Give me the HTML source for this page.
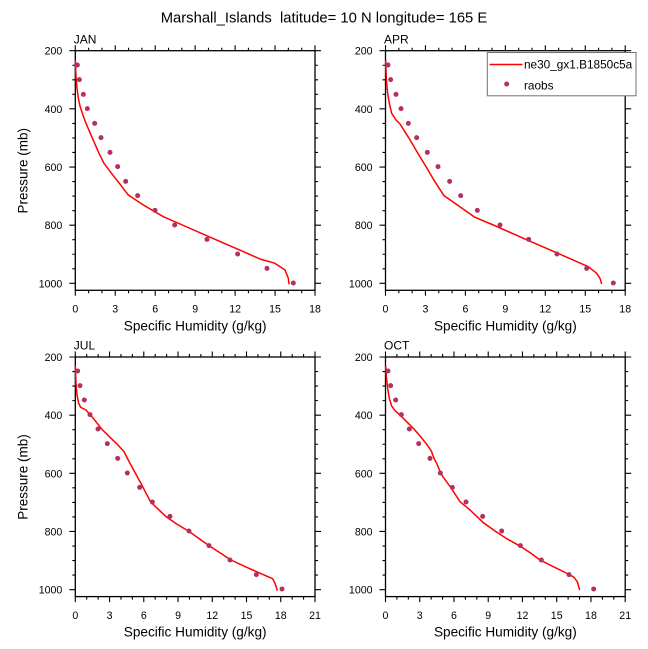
<!DOCTYPE html>
<html>
<head>
<meta charset="utf-8">
<style>
html,body{margin:0;padding:0;background:#fff;}
svg{display:block;}
text{font-family:"Liberation Sans",Arial,sans-serif;fill:#000;}
.pre{white-space:pre;}
</style>
</head>
<body>
<svg width="648" height="649" viewBox="0 0 648 649" xmlns="http://www.w3.org/2000/svg">
<rect width="648" height="649" fill="#fff"/>

<!-- Title -->
<text class="pre" xml:space="preserve" x="324" y="22.3" font-size="14.8" text-anchor="middle">Marshall_Islands  latitude= 10 N longitude= 165 E</text>

<!-- ========== PANEL 1 (JAN) ========== -->
<g transform="translate(75.3,50.7)">
  <rect x="0" y="0" width="239.7" height="239.6" fill="none" stroke="#000" stroke-width="1.3"/>
  <path fill="none" stroke="#000" stroke-width="1.1" d="M0 0h-6M0 58.16h-6M0 116.32h-6M0 174.48h-6M0 232.64h-6M0 14.54h-3M0 29.08h-3M0 43.62h-3M0 72.7h-3M0 87.24h-3M0 101.78h-3M0 130.86h-3M0 145.4h-3M0 159.94h-3M0 189.02h-3M0 203.56h-3M0 218.1h-3
  M239.7 0h6M239.7 58.16h6M239.7 116.32h6M239.7 174.48h6M239.7 232.64h6M239.7 14.54h3M239.7 29.08h3M239.7 43.62h3M239.7 72.7h3M239.7 87.24h3M239.7 101.78h3M239.7 130.86h3M239.7 145.4h3M239.7 159.94h3M239.7 189.02h3M239.7 203.56h3M239.7 218.1h3
  M0 239.6v5.5M39.95 239.6v5.5M79.9 239.6v5.5M119.85 239.6v5.5M159.8 239.6v5.5M199.76 239.6v5.5M239.7 239.6v5.5M13.32 239.6v3M26.63 239.6v3M53.27 239.6v3M66.59 239.6v3M93.22 239.6v3M106.54 239.6v3M133.17 239.6v3M146.49 239.6v3M173.12 239.6v3M186.44 239.6v3M213.07 239.6v3M226.39 239.6v3
  M0 0v-5.5M39.95 0v-5.5M79.9 0v-5.5M119.85 0v-5.5M159.8 0v-5.5M199.76 0v-5.5M239.7 0v-5.5M13.32 0v-3M26.63 0v-3M53.27 0v-3M66.59 0v-3M93.22 0v-3M106.54 0v-3M133.17 0v-3M146.49 0v-3M173.12 0v-3M186.44 0v-3M213.07 0v-3M226.39 0v-3"/>
  <g font-size="10.6" text-anchor="end">
    <text x="-13" y="4">200</text><text x="-13" y="62.2">400</text><text x="-13" y="120.3">600</text><text x="-13" y="178.5">800</text><text x="-13" y="236.6">1000</text>
  </g>
  <g font-size="10.6" text-anchor="middle">
    <text x="0" y="262">0</text><text x="39.95" y="262">3</text><text x="79.9" y="262">6</text><text x="119.85" y="262">9</text><text x="159.8" y="262">12</text><text x="199.76" y="262">15</text><text x="239.7" y="262">18</text>
  </g>
  <text x="-1.5" y="-7.3" font-size="12">JAN</text>
  <text x="119.85" y="279.8" font-size="13.6" text-anchor="middle">Specific Humidity (g/kg)</text>
</g>
<text transform="translate(27.6,170.8) rotate(-90)" font-size="13.5" text-anchor="middle">Pressure (mb)</text>

<g transform="scale(0.333333)">
  <polyline fill="none" stroke="#ff0000" stroke-width="4.5" stroke-linejoin="round" points="226,180 228,230 231,265 235,295 240,318 248,343 258,370 270,398 283,428 297,460 312,490 333,518 358,550 385,585 430,615 490,650 547,675 645,718 746,762 780,777 825,790 855,810 865,835 867,853"/>
  <g fill="#b3305f">
    <circle cx="232" cy="195" r="7.5"/><circle cx="238" cy="239" r="7.5"/><circle cx="250" cy="283" r="7.5"/><circle cx="262" cy="326" r="7.5"/><circle cx="284" cy="370" r="7.5"/><circle cx="303" cy="413" r="7.5"/><circle cx="330" cy="457" r="7.5"/><circle cx="353" cy="500" r="7.5"/><circle cx="377" cy="544" r="7.5"/><circle cx="413" cy="587" r="7.5"/><circle cx="465" cy="631" r="7.5"/><circle cx="524" cy="675" r="7.5"/><circle cx="621" cy="718" r="7.5"/><circle cx="713" cy="762" r="7.5"/><circle cx="801" cy="805" r="7.5"/><circle cx="880" cy="849" r="7.5"/>
  </g>
</g>

<!-- ========== PANEL 2 (APR) ========== -->
<g transform="translate(385.5,50.7)">
  <rect x="0" y="0" width="239.7" height="239.6" fill="none" stroke="#000" stroke-width="1.3"/>
  <path fill="none" stroke="#000" stroke-width="1.1" d="M0 0h-6M0 58.16h-6M0 116.32h-6M0 174.48h-6M0 232.64h-6M0 14.54h-3M0 29.08h-3M0 43.62h-3M0 72.7h-3M0 87.24h-3M0 101.78h-3M0 130.86h-3M0 145.4h-3M0 159.94h-3M0 189.02h-3M0 203.56h-3M0 218.1h-3
  M239.7 0h6M239.7 58.16h6M239.7 116.32h6M239.7 174.48h6M239.7 232.64h6M239.7 14.54h3M239.7 29.08h3M239.7 43.62h3M239.7 72.7h3M239.7 87.24h3M239.7 101.78h3M239.7 130.86h3M239.7 145.4h3M239.7 159.94h3M239.7 189.02h3M239.7 203.56h3M239.7 218.1h3
  M0 239.6v5.5M39.95 239.6v5.5M79.9 239.6v5.5M119.85 239.6v5.5M159.8 239.6v5.5M199.76 239.6v5.5M239.7 239.6v5.5M13.32 239.6v3M26.63 239.6v3M53.27 239.6v3M66.59 239.6v3M93.22 239.6v3M106.54 239.6v3M133.17 239.6v3M146.49 239.6v3M173.12 239.6v3M186.44 239.6v3M213.07 239.6v3M226.39 239.6v3
  M0 0v-5.5M39.95 0v-5.5M79.9 0v-5.5M119.85 0v-5.5M159.8 0v-5.5M199.76 0v-5.5M239.7 0v-5.5M13.32 0v-3M26.63 0v-3M53.27 0v-3M66.59 0v-3M93.22 0v-3M106.54 0v-3M133.17 0v-3M146.49 0v-3M173.12 0v-3M186.44 0v-3M213.07 0v-3M226.39 0v-3"/>
  <g font-size="10.6" text-anchor="end">
    <text x="-13" y="4">200</text><text x="-13" y="62.2">400</text><text x="-13" y="120.3">600</text><text x="-13" y="178.5">800</text><text x="-13" y="236.6">1000</text>
  </g>
  <g font-size="10.6" text-anchor="middle">
    <text x="0" y="262">0</text><text x="39.95" y="262">3</text><text x="79.9" y="262">6</text><text x="119.85" y="262">9</text><text x="159.8" y="262">12</text><text x="199.76" y="262">15</text><text x="239.7" y="262">18</text>
  </g>
  <text x="-1.5" y="-7.3" font-size="12">APR</text>
  <text x="119.85" y="279.8" font-size="13.6" text-anchor="middle">Specific Humidity (g/kg)</text>
</g>

<g transform="translate(320,0) scale(0.333333)">
  <polyline fill="none" stroke="#ff0000" stroke-width="4.5" stroke-linejoin="round" points="197,180 199,240 203,280 208,310 215,340 228,360 240,372 266,413 292,457 318,500 344,544 372,587 465,652 520,675 617,718 718,762 805,800 830,820 840,835 845,852"/>
  <g fill="#b3305f">
    <circle cx="204" cy="195" r="7.5"/><circle cx="212" cy="239" r="7.5"/><circle cx="228" cy="283" r="7.5"/><circle cx="243" cy="326" r="7.5"/><circle cx="265" cy="370" r="7.5"/><circle cx="290" cy="413" r="7.5"/><circle cx="322" cy="457" r="7.5"/><circle cx="354" cy="500" r="7.5"/><circle cx="389" cy="544" r="7.5"/><circle cx="422" cy="587" r="7.5"/><circle cx="472" cy="631" r="7.5"/><circle cx="540" cy="675" r="7.5"/><circle cx="626" cy="718" r="7.5"/><circle cx="711" cy="762" r="7.5"/><circle cx="800" cy="805" r="7.5"/><circle cx="880" cy="849" r="7.5"/>
  </g>
</g>

<!-- Legend -->
<rect x="487.3" y="52.5" width="148.7" height="43.3" fill="#fff" stroke="#707070" stroke-width="1"/>
<line x1="489.5" y1="64.5" x2="522.5" y2="64.5" stroke="#ff0000" stroke-width="1.5"/>
<text x="524" y="68.5" font-size="11.8">ne30_gx1.B1850c5a</text>
<circle cx="506.7" cy="84" r="2.5" fill="#b3305f"/>
<text x="524" y="89.3" font-size="11.8">raobs</text>

<!-- ========== PANEL 3 (JUL) ========== -->
<g transform="translate(75.3,357)">
  <rect x="0" y="0" width="239.7" height="239.6" fill="none" stroke="#000" stroke-width="1.3"/>
  <path fill="none" stroke="#000" stroke-width="1.1" d="M0 0h-6M0 58.16h-6M0 116.32h-6M0 174.48h-6M0 232.64h-6M0 14.54h-3M0 29.08h-3M0 43.62h-3M0 72.7h-3M0 87.24h-3M0 101.78h-3M0 130.86h-3M0 145.4h-3M0 159.94h-3M0 189.02h-3M0 203.56h-3M0 218.1h-3
  M239.7 0h6M239.7 58.16h6M239.7 116.32h6M239.7 174.48h6M239.7 232.64h6M239.7 14.54h3M239.7 29.08h3M239.7 43.62h3M239.7 72.7h3M239.7 87.24h3M239.7 101.78h3M239.7 130.86h3M239.7 145.4h3M239.7 159.94h3M239.7 189.02h3M239.7 203.56h3M239.7 218.1h3
  M0 239.6v5.5M34.24 239.6v5.5M68.48 239.6v5.5M102.73 239.6v5.5M136.97 239.6v5.5M171.21 239.6v5.5M205.45 239.6v5.5M239.7 239.6v5.5M11.41 239.6v3M22.83 239.6v3M45.66 239.6v3M57.07 239.6v3M79.9 239.6v3M91.31 239.6v3M114.14 239.6v3M125.55 239.6v3M148.38 239.6v3M159.8 239.6v3M182.62 239.6v3M194.04 239.6v3M216.87 239.6v3M228.28 239.6v3
  M0 0v-5.5M34.24 0v-5.5M68.48 0v-5.5M102.73 0v-5.5M136.97 0v-5.5M171.21 0v-5.5M205.45 0v-5.5M239.7 0v-5.5M11.41 0v-3M22.83 0v-3M45.66 0v-3M57.07 0v-3M79.9 0v-3M91.31 0v-3M114.14 0v-3M125.55 0v-3M148.38 0v-3M159.8 0v-3M182.62 0v-3M194.04 0v-3M216.87 0v-3M228.28 0v-3"/>
  <g font-size="10.6" text-anchor="end">
    <text x="-13" y="4">200</text><text x="-13" y="62.2">400</text><text x="-13" y="120.3">600</text><text x="-13" y="178.5">800</text><text x="-13" y="236.6">1000</text>
  </g>
  <g font-size="10.6" text-anchor="middle">
    <text x="0" y="262">0</text><text x="34.24" y="262">3</text><text x="68.48" y="262">6</text><text x="102.73" y="262">9</text><text x="136.97" y="262">12</text><text x="171.21" y="262">15</text><text x="205.45" y="262">18</text><text x="239.7" y="262">21</text>
  </g>
  <text x="-1.5" y="-7.5" font-size="12">JUL</text>
  <text x="119.85" y="279.5" font-size="13.6" text-anchor="middle">Specific Humidity (g/kg)</text>
</g>
<text transform="translate(27.6,477) rotate(-90)" font-size="13.5" text-anchor="middle">Pressure (mb)</text>

<g transform="translate(0,320) scale(0.333333)">
  <polyline fill="none" stroke="#ff0000" stroke-width="4.5" stroke-linejoin="round" points="226,138 228,190 231,225 236,250 242,262 258,270 280,295 305,327 330,352 350,371 372,395 390,430 406,459 429,502 452,546 475,568 497,589 530,612 565,633 627,677 693,720 740,742 790,764 818,776 826,792 832,812"/>
  <g fill="#b3305f">
    <circle cx="233" cy="153" r="7.5"/><circle cx="240" cy="197" r="7.5"/><circle cx="253" cy="240" r="7.5"/><circle cx="270" cy="284" r="7.5"/><circle cx="294" cy="327" r="7.5"/><circle cx="322" cy="371" r="7.5"/><circle cx="353" cy="415" r="7.5"/><circle cx="382" cy="459" r="7.5"/><circle cx="419" cy="502" r="7.5"/><circle cx="457" cy="546" r="7.5"/><circle cx="510" cy="589" r="7.5"/><circle cx="567" cy="633" r="7.5"/><circle cx="627" cy="677" r="7.5"/><circle cx="690" cy="720" r="7.5"/><circle cx="769" cy="764" r="7.5"/><circle cx="846" cy="807" r="7.5"/>
  </g>
</g>

<!-- ========== PANEL 4 (OCT) ========== -->
<g transform="translate(385.5,357)">
  <rect x="0" y="0" width="239.7" height="239.6" fill="none" stroke="#000" stroke-width="1.3"/>
  <path fill="none" stroke="#000" stroke-width="1.1" d="M0 0h-6M0 58.16h-6M0 116.32h-6M0 174.48h-6M0 232.64h-6M0 14.54h-3M0 29.08h-3M0 43.62h-3M0 72.7h-3M0 87.24h-3M0 101.78h-3M0 130.86h-3M0 145.4h-3M0 159.94h-3M0 189.02h-3M0 203.56h-3M0 218.1h-3
  M239.7 0h6M239.7 58.16h6M239.7 116.32h6M239.7 174.48h6M239.7 232.64h6M239.7 14.54h3M239.7 29.08h3M239.7 43.62h3M239.7 72.7h3M239.7 87.24h3M239.7 101.78h3M239.7 130.86h3M239.7 145.4h3M239.7 159.94h3M239.7 189.02h3M239.7 203.56h3M239.7 218.1h3
  M0 239.6v5.5M34.24 239.6v5.5M68.48 239.6v5.5M102.73 239.6v5.5M136.97 239.6v5.5M171.21 239.6v5.5M205.45 239.6v5.5M239.7 239.6v5.5M11.41 239.6v3M22.83 239.6v3M45.66 239.6v3M57.07 239.6v3M79.9 239.6v3M91.31 239.6v3M114.14 239.6v3M125.55 239.6v3M148.38 239.6v3M159.8 239.6v3M182.62 239.6v3M194.04 239.6v3M216.87 239.6v3M228.28 239.6v3
  M0 0v-5.5M34.24 0v-5.5M68.48 0v-5.5M102.73 0v-5.5M136.97 0v-5.5M171.21 0v-5.5M205.45 0v-5.5M239.7 0v-5.5M11.41 0v-3M22.83 0v-3M45.66 0v-3M57.07 0v-3M79.9 0v-3M91.31 0v-3M114.14 0v-3M125.55 0v-3M148.38 0v-3M159.8 0v-3M182.62 0v-3M194.04 0v-3M216.87 0v-3M228.28 0v-3"/>
  <g font-size="10.6" text-anchor="end">
    <text x="-13" y="4">200</text><text x="-13" y="62.2">400</text><text x="-13" y="120.3">600</text><text x="-13" y="178.5">800</text><text x="-13" y="236.6">1000</text>
  </g>
  <g font-size="10.6" text-anchor="middle">
    <text x="0" y="262">0</text><text x="34.24" y="262">3</text><text x="68.48" y="262">6</text><text x="102.73" y="262">9</text><text x="136.97" y="262">12</text><text x="171.21" y="262">15</text><text x="205.45" y="262">18</text><text x="239.7" y="262">21</text>
  </g>
  <text x="-1.5" y="-7.5" font-size="12">OCT</text>
  <text x="119.85" y="279.5" font-size="13.6" text-anchor="middle">Specific Humidity (g/kg)</text>
</g>

<g transform="translate(320,320) scale(0.333333)">
  <polyline fill="none" stroke="#ff0000" stroke-width="4.5" stroke-linejoin="round" points="197,138 199,170 203,205 208,235 215,258 225,272 240,285 260,305 282,327 300,348 318,370 334,393 342,415 350,430 362,459 372,475 392,502 420,545 450,570 470,589 490,608 525,633 560,656 598,677 630,698 660,720 700,740 745,762 762,772 772,785 779,810"/>
  <g fill="#b3305f">
    <circle cx="204" cy="153" r="7.5"/><circle cx="212" cy="197" r="7.5"/><circle cx="227" cy="240" r="7.5"/><circle cx="244" cy="284" r="7.5"/><circle cx="268" cy="327" r="7.5"/><circle cx="296" cy="371" r="7.5"/><circle cx="330" cy="415" r="7.5"/><circle cx="361" cy="459" r="7.5"/><circle cx="397" cy="502" r="7.5"/><circle cx="438" cy="546" r="7.5"/><circle cx="488" cy="589" r="7.5"/><circle cx="545" cy="633" r="7.5"/><circle cx="601" cy="677" r="7.5"/><circle cx="664" cy="720" r="7.5"/><circle cx="747" cy="764" r="7.5"/><circle cx="821" cy="807" r="7.5"/>
  </g>
</g>

</svg>
</body>
</html>
